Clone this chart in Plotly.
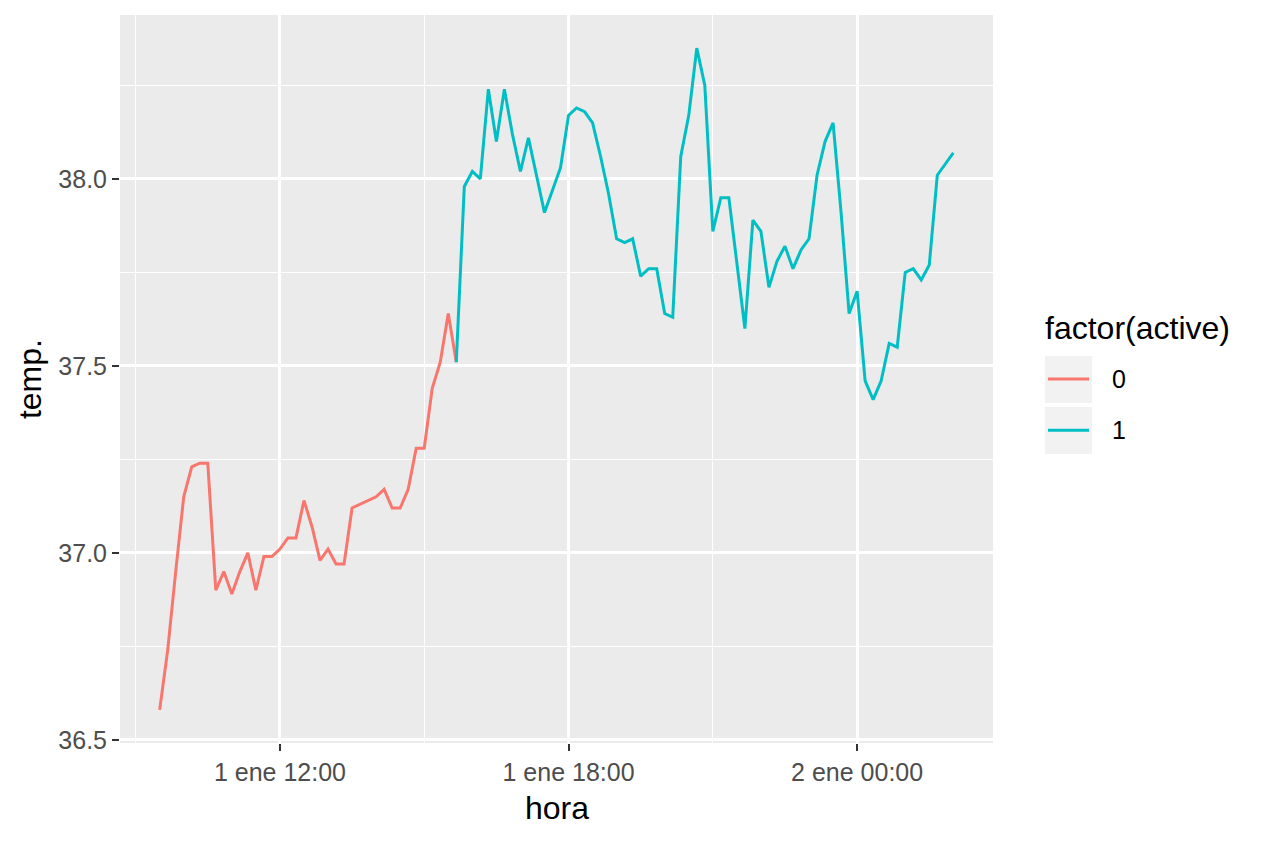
import pandas as pd
import plotly.graph_objects as go

# ------------------------- Datos --------------------------------------------
# lecturas cada 10 minutos desde 1 ene 09:30
hora = pd.date_range('2020-01-01 09:30', periods=100, freq='10min')

temp_inactivo = [36.58, 36.74, 36.95, 37.15, 37.23, 37.24, 37.24, 36.90, 36.95, 36.89,
                 36.95, 37.00, 36.90, 36.99, 36.99, 37.01, 37.04, 37.04, 37.14, 37.07,
                 36.98, 37.01, 36.97, 36.97, 37.12, 37.13, 37.14, 37.15, 37.17, 37.12,
                 37.12, 37.17, 37.28, 37.28, 37.44, 37.51, 37.64, 37.51]

temp_activo = [37.51, 37.98, 38.02, 38.00, 38.24, 38.10, 38.24, 38.12, 38.02, 38.11,
               38.01, 37.91, 37.97, 38.03, 38.17, 38.19, 38.18, 38.15, 38.06, 37.96,
               37.84, 37.83, 37.84, 37.74, 37.76, 37.76, 37.64, 37.63, 38.06, 38.17,
               38.35, 38.25, 37.86, 37.95, 37.95, 37.78, 37.60, 37.89, 37.86, 37.71,
               37.78, 37.82, 37.76, 37.81, 37.84, 38.01, 38.10, 38.15, 37.91, 37.64,
               37.70, 37.46, 37.41, 37.46, 37.56, 37.55, 37.75, 37.76, 37.73, 37.77,
               38.01, 38.04, 38.07]

hora_inactivo = hora[:len(temp_inactivo)]
hora_activo = hora[len(temp_inactivo) - 1:]

x_ticks = ['2020-01-01 12:00', '2020-01-01 18:00', '2020-01-02 00:00']
x_tick_text = ['1 ene 12:00', '1 ene 18:00', '2 ene 00:00']
y_ticks = [36.5, 37.0, 37.5, 38.0]

grupos = ['0', '1']
colores = ['#F8766D', '#00BFC4']

# ------------------------- Gráfico --------------------------------------------
fig = go.Figure()
fig.add_trace(go.Scatter(x=hora_inactivo, y=temp_inactivo, mode='lines',
                         line=dict(color=colores[0], width=3), name=grupos[0]))
fig.add_trace(go.Scatter(x=hora_activo, y=temp_activo, mode='lines',
                         line=dict(color=colores[1], width=3), name=grupos[1]))

# rango con la expansión del 5 % de ggplot
todos = temp_inactivo + temp_activo
span_y = max(todos) - min(todos)
span_x = hora[-1] - hora[0]
x_rango = [hora[0] - 0.05 * span_x, hora[-1] + 0.05 * span_x]
y_rango = [min(todos) - 0.05 * span_y, max(todos) + 0.05 * span_y]

fuente = 'Liberation Sans, Arial, sans-serif'

# el body del html tiene 8px de margen, se descuenta aquí
fig.update_layout(
    width=1256, height=835,
    margin=dict(l=112, r=271, t=7, b=100),
    plot_bgcolor='#EBEBEB', paper_bgcolor='white',
    showlegend=False,
    font=dict(family=fuente, size=25, color='#4D4D4D'),
)

fig.update_xaxes(
    range=x_rango, tickvals=x_ticks, ticktext=x_tick_text,
    showgrid=True, gridcolor='white', gridwidth=2.8,
    minor=dict(showgrid=True, gridcolor='white', gridwidth=1.4,
               tick0='2020-01-01 00:00', dtick=3 * 3600 * 1000),
    ticks='outside', ticklen=7, tickwidth=2, tickcolor='#333333',
    tickfont=dict(size=25, color='#4D4D4D'),
    zeroline=False, showline=False,
)
fig.update_yaxes(
    range=y_rango, tickvals=y_ticks, tickformat='.1f',
    showgrid=True, gridcolor='white', gridwidth=2.8,
    minor=dict(showgrid=True, gridcolor='white', gridwidth=1.4, tick0=36.5, dtick=0.25),
    ticks='outside', ticklen=7, tickwidth=2, tickcolor='#333333',
    tickfont=dict(size=25, color='#4D4D4D'),
    zeroline=False, showline=False,
)

# Títulos de ejes
fig.add_annotation(text='hora', x=0.5, y=-0.089, xref='paper', yref='paper',
                   showarrow=False, font=dict(size=32, color='black', family=fuente),
                   xanchor='center', yanchor='middle')
fig.add_annotation(text='temp.', x=-0.103, y=0.5, xref='paper', yref='paper',
                   showarrow=False, textangle=-90,
                   font=dict(size=32, color='black', family=fuente),
                   xanchor='center', yanchor='middle')

# Leyenda estilo ggplot
fig.add_annotation(text='factor(active)', x=1.0573, y=0.570, xref='paper', yref='paper',
                   showarrow=False, font=dict(size=32, color='black', family=fuente),
                   xanchor='left', yanchor='middle')
cajas = [(0.5316, 0.4670, 0.5), (0.4615, 0.3970, 0.4295)]
for (y_top, y_bot, y_lin), grupo, color in zip(cajas, grupos, colores):
    fig.add_shape(type='rect', xref='paper', yref='paper',
                  x0=1.0596, x1=1.1134, y0=y_bot, y1=y_top,
                  fillcolor='#F2F2F2', line=dict(width=0))
    fig.add_shape(type='line', xref='paper', yref='paper',
                  x0=1.0630, x1=1.1100, y0=y_lin, y1=y_lin,
                  line=dict(color=color, width=3))
    fig.add_annotation(text=grupo, x=1.134, y=y_lin, xref='paper', yref='paper',
                       showarrow=False, font=dict(size=25, color='black', family=fuente),
                       xanchor='left', yanchor='middle')

fig.write_html('out.html')
